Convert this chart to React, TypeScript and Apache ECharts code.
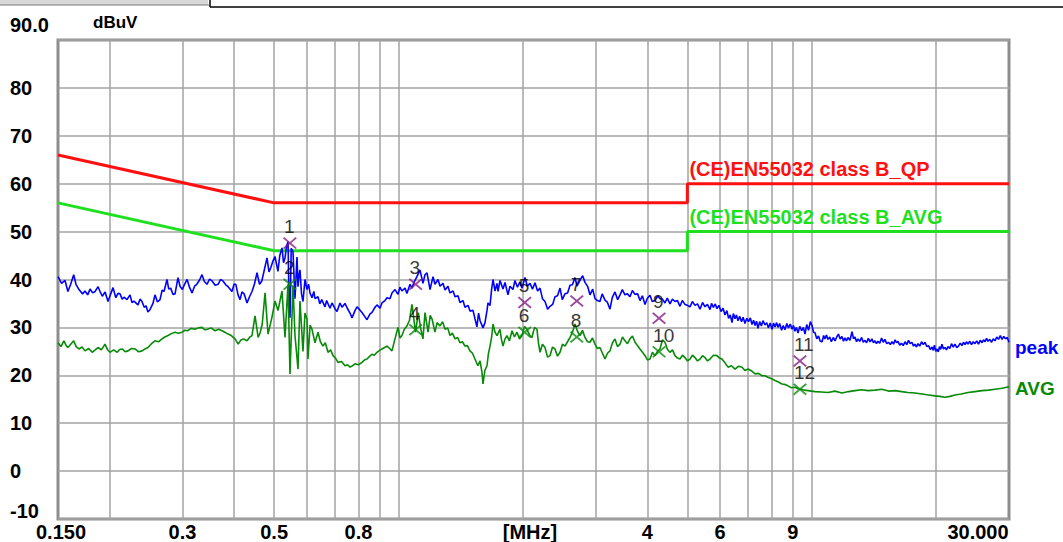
import React, { useEffect, useRef } from "react";
import * as echarts from "echarts";

const FONT = "'Liberation Sans', Arial, sans-serif";

// Frequency grid (MHz) and tick labels
const gridFreqs = [0.2, 0.3, 0.4, 0.5, 0.6, 0.7, 0.8, 0.9, 1, 2, 3, 4, 5, 6, 7, 8, 9, 10, 20];
const xTickValues = [0.15, 0.3, 0.5, 0.8, 2.08, 4, 6, 9, 30];
const xTickLabels = ["0.150", "0.3", "0.5", "0.8", "[MHz]", "4", "6", "9", "30.000"];

// Limit lines [MHz, dBuV]
const qpLimit = [[0.15, 66], [0.5, 56], [5, 56], [5, 60], [30, 60]];
const avLimit = [[0.15, 56], [0.5, 46], [5, 46], [5, 50], [30, 50]];

// Peak trace [MHz, dBuV]
const peakLow = [
  [0.150, 40.6], [0.153, 39.2], [0.156, 39.8], [0.1585, 37.5], [0.161, 39.0], [0.1637, 41.0], [0.1658, 39.0], [0.1686, 37.9],
  [0.172, 37.0], [0.1743, 37.6], [0.177, 36.8], [0.1793, 38.0], [0.182, 37.2], [0.1844, 37.5], [0.1875, 38.5], [0.190, 37.3],
  [0.192, 36.5], [0.195, 37.4], [0.1982, 35.4], [0.201, 36.9], [0.2038, 38.3], [0.207, 36.2], [0.2095, 37.1], [0.2119, 37.0],
  [0.2145, 35.9], [0.2167, 36.3], [0.2203, 35.8], [0.2240, 36.8], [0.2265, 35.2], [0.229, 35.5], [0.2342, 34.7], [0.2368, 35.9],
  [0.2395, 35.4], [0.2425, 34.2], [0.245, 34.5], [0.2475, 33.2], [0.2504, 33.7], [0.2546, 35.0], [0.2575, 36.8], [0.261, 35.3],
  [0.2648, 35.8], [0.268, 37.8], [0.2708, 37.5], [0.2753, 40.0], [0.278, 38.0], [0.281, 38.2], [0.2845, 36.9], [0.2879, 37.0],
  [0.2927, 40.4], [0.296, 38.6], [0.300, 37.9], [0.304, 39.1], [0.308, 40.0], [0.312, 38.4], [0.3165, 37.2], [0.321, 38.6],
  [0.325, 39.0], [0.330, 39.9], [0.3346, 41.0], [0.339, 39.6], [0.344, 39.0], [0.349, 40.1], [0.354, 39.7], [0.360, 38.8],
  [0.366, 39.0], [0.371, 40.0], [0.376, 39.7], [0.382, 38.9], [0.387, 38.5], [0.3954, 37.5], [0.400, 39.0], [0.404, 39.0],
  [0.409, 36.8], [0.4136, 35.8], [0.418, 37.4], [0.423, 37.0], [0.4265, 36.1], [0.4300, 35.1], [0.436, 36.4], [0.442, 37.5],
  [0.448, 39.0], [0.4546, 41.4], [0.461, 39.0], [0.467, 39.7], [0.474, 42.2], [0.4806, 44.5], [0.486, 41.6], [0.491, 42.5],
  [0.497, 43.9], [0.5025, 44.8], [0.5108, 41.7], [0.516, 45.0], [0.5225, 46.6], [0.527, 43.5], [0.5313, 44.5], [0.536, 47.0],
  [0.5403, 47.9], [0.5433, 36.0], [0.5463, 32.0], [0.550, 46.5], [0.5555, 45.8], [0.5617, 36.0], [0.5650, 40.5], [0.5680, 44.7],
  [0.5712, 38.5], [0.5745, 41.0], [0.5775, 42.0], [0.5825, 37.0], [0.5873, 35.4], [0.5939, 40.0], [0.6006, 37.9], [0.606, 39.0],
  [0.6106, 37.2], [0.6176, 36.2], [0.624, 37.5], [0.6279, 36.0], [0.6386, 36.4], [0.645, 34.9], [0.6520, 35.8], [0.6639, 34.3],
  [0.670, 35.6], [0.6826, 34.0], [0.6904, 35.1], [0.7020, 33.9], [0.7099, 33.3], [0.7218, 35.1], [0.730, 34.2], [0.7422, 35.0],
  [0.7506, 34.1], [0.7632, 33.0], [0.7717, 32.0], [0.7847, 33.5], [0.7935, 34.3], [0.8069, 33.6], [0.8159, 33.1], [0.8297, 32.2],
  [0.8389, 31.6], [0.8531, 32.8], [0.862, 33.1], [0.8772, 34.2], [0.8869, 34.7], [0.9020, 34.0], [0.9120, 35.1], [0.9274, 35.6],
  [0.9378, 36.2], [0.9536, 36.0], [0.9642, 37.2], [0.9806, 37.9], [0.997, 36.9],
];
const peakMid = [
  [1.008, 38.4], [1.019, 37.6], [1.037, 38.2], [1.048, 37.1], [1.066, 39.0], [1.078, 38.2], [1.090, 39.4], [1.108, 40.6],
  [1.127, 42.0], [1.146, 39.2], [1.159, 41.0], [1.172, 41.4], [1.192, 37.9], [1.212, 40.6], [1.225, 39.0], [1.246, 40.0],
  [1.260, 38.6], [1.281, 39.2], [1.296, 37.8], [1.317, 38.6], [1.332, 37.2], [1.355, 37.6], [1.370, 36.4], [1.393, 36.6],
  [1.408, 35.2], [1.432, 35.6], [1.448, 34.2], [1.473, 34.6], [1.489, 33.4], [1.514, 33.6], [1.531, 31.8], [1.548, 30.1],
  [1.562, 33.0], [1.575, 31.4], [1.601, 29.9], [1.619, 31.0], [1.637, 33.5], [1.646, 35.1], [1.665, 34.6], [1.680, 38.0],
  [1.693, 40.0], [1.712, 37.6], [1.731, 39.2], [1.741, 37.5], [1.760, 39.8], [1.790, 38.0], [1.810, 39.4], [1.840, 36.8],
  [1.861, 38.6], [1.892, 37.9], [1.913, 39.8], [1.940, 38.4], [1.967, 39.5], [1.990, 38.2], [2.023, 40.4], [2.050, 38.6],
  [2.080, 39.2], [2.110, 38.0], [2.139, 39.3], [2.170, 37.6], [2.200, 38.2], [2.230, 36.0], [2.262, 35.4], [2.295, 33.8],
  [2.326, 34.4], [2.360, 34.8], [2.391, 36.4], [2.425, 36.6], [2.459, 38.2], [2.490, 35.8], [2.528, 37.0], [2.565, 37.2],
  [2.600, 38.8], [2.635, 38.9], [2.673, 40.4], [2.703, 38.6], [2.748, 39.8], [2.790, 40.8], [2.826, 39.4], [2.870, 38.5],
  [2.906, 36.8], [2.950, 38.0], [2.988, 36.0], [3.030, 35.6], [3.072, 35.4], [3.110, 37.0], [3.159, 35.7], [3.200, 35.3],
  [3.248, 33.8], [3.290, 36.2], [3.340, 37.4], [3.390, 35.8], [3.435, 36.8], [3.480, 37.9], [3.531, 36.8], [3.580, 37.0],
  [3.631, 36.4], [3.680, 37.7], [3.734, 36.9], [3.790, 37.0], [3.839, 35.6], [3.890, 36.6], [3.948, 34.8], [4.000, 36.1],
  [4.059, 36.7], [4.110, 35.4], [4.174, 35.6], [4.240, 36.6], [4.292, 36.0], [4.350, 35.9], [4.413, 35.1], [4.470, 36.1],
  [4.538, 34.9], [4.600, 35.9], [4.666, 35.4], [4.730, 35.6], [4.798, 34.4], [4.860, 35.6], [4.933, 34.8],
];
const peakHigh = [
  [5.000, 34.6], [5.073, 34.3], [5.140, 35.4], [5.216, 34.6], [5.290, 34.9], [5.364, 33.8], [5.440, 35.2], [5.515, 34.3],
  [5.590, 34.8], [5.671, 33.7], [5.720, 35.0], [5.780, 34.2], [5.840, 34.9], [5.896, 33.9], [5.960, 34.6], [6.030, 33.3],
  [6.100, 34.0], [6.165, 32.6], [6.230, 33.5], [6.290, 31.9], [6.350, 32.6], [6.410, 31.0], [6.460, 32.9], [6.520, 31.8],
  [6.570, 32.6], [6.628, 31.4], [6.690, 32.3], [6.760, 31.2], [6.820, 32.1], [6.891, 30.8], [6.960, 31.9], [7.030, 31.2],
  [7.100, 32.0], [7.166, 30.6], [7.230, 31.5], [7.290, 30.4], [7.350, 31.3], [7.409, 29.8], [7.480, 31.2], [7.550, 30.3],
  [7.620, 31.4], [7.703, 30.5], [7.780, 31.0], [7.850, 29.9], [7.930, 30.9], [8.011, 29.6], [8.080, 30.9], [8.150, 30.1],
  [8.220, 31.0], [8.283, 30.0], [8.360, 30.8], [8.450, 29.4], [8.530, 30.4], [8.612, 29.5], [8.700, 30.8], [8.780, 29.9],
  [8.870, 30.7], [8.956, 29.6], [9.030, 30.4], [9.100, 29.2], [9.180, 30.0], [9.260, 28.8], [9.350, 30.2], [9.450, 29.3],
  [9.540, 30.0], [9.627, 28.6], [9.720, 30.6], [9.820, 29.4], [9.920, 31.2], [10.01, 30.4], [10.10, 29.0], [10.18, 28.9],
  [10.28, 27.6], [10.38, 28.2], [10.48, 27.1], [10.59, 27.0], [10.68, 28.3], [10.76, 27.6], [10.85, 28.4], [10.94, 27.5],
  [11.05, 28.0], [11.15, 27.0], [11.27, 27.9], [11.38, 27.2], [11.49, 28.0], [11.60, 28.6], [11.71, 27.6], [11.83, 28.1],
  [11.93, 27.1], [12.03, 27.8], [12.13, 27.2], [12.23, 27.9], [12.37, 27.3], [12.51, 29.1], [12.62, 27.6], [12.72, 28.0],
  [12.83, 27.0], [12.93, 27.6], [13.06, 27.1], [13.20, 27.9], [13.32, 26.9], [13.45, 27.3], [13.57, 26.8], [13.70, 27.7],
  [13.84, 27.0], [13.98, 27.6], [14.10, 26.8], [14.22, 27.2], [14.34, 26.6], [14.46, 27.1], [14.60, 26.7], [14.75, 27.8],
  [14.89, 26.9], [15.03, 27.5], [15.18, 26.6], [15.33, 26.9], [15.48, 26.4], [15.63, 27.0], [15.77, 26.5], [15.90, 27.4],
  [16.03, 26.8], [16.16, 27.1], [16.32, 26.3], [16.48, 26.7], [16.64, 26.2], [16.81, 27.0], [16.97, 26.4], [17.14, 27.3],
  [17.30, 26.6], [17.47, 26.9], [17.62, 26.1], [17.77, 26.5], [17.92, 25.9], [18.07, 26.6], [18.25, 26.1], [18.43, 27.0],
  [18.61, 26.4], [18.79, 26.9], [18.97, 26.0], [19.16, 26.2], [19.35, 25.4], [19.54, 25.9], [19.67, 25.2], [19.80, 26.3],
  [19.95, 25.0], [20.09, 25.5], [20.23, 24.9], [20.37, 26.0], [20.51, 25.4], [20.65, 26.5], [20.82, 25.5], [21.00, 25.8],
  [21.18, 25.3], [21.36, 26.0], [21.57, 25.6], [21.78, 26.6], [21.99, 25.9], [22.20, 26.5], [22.42, 25.8], [22.64, 26.1],
  [22.86, 26.7], [23.09, 26.2], [23.28, 26.9], [23.48, 26.4], [23.67, 27.0], [23.87, 26.5], [24.11, 27.1], [24.35, 26.4],
  [24.58, 27.0], [24.82, 26.6], [25.06, 27.2], [25.31, 26.5], [25.56, 27.3], [25.81, 26.8], [26.03, 27.4], [26.25, 27.0],
  [26.47, 27.7], [26.69, 27.1], [26.95, 27.5], [27.22, 26.9], [27.48, 27.6], [27.75, 27.2], [28.02, 28.0], [28.30, 27.5],
  [28.58, 28.3], [28.86, 27.5], [29.14, 28.1], [29.43, 27.6], [29.71, 27.9], [30.00, 26.9],
];

// Average trace [MHz, dBuV]
const avgLow = [
  [0.150, 26.8], [0.1525, 26.0], [0.155, 27.2], [0.157, 26.2], [0.1585, 25.8], [0.161, 26.5], [0.1637, 27.2], [0.166, 26.0],
  [0.1686, 25.5], [0.1715, 25.9], [0.1743, 25.1], [0.178, 25.6], [0.1815, 24.8], [0.1845, 25.3], [0.1875, 25.8], [0.191, 25.3],
  [0.1949, 26.5], [0.1975, 25.4], [0.2004, 24.8], [0.2045, 25.3], [0.2086, 24.8], [0.2115, 25.4], [0.2148, 25.5], [0.218, 24.9],
  [0.2215, 25.1], [0.226, 25.6], [0.2304, 25.5], [0.235, 24.9], [0.2396, 25.1], [0.2435, 25.5], [0.2477, 25.8], [0.2525, 26.6],
  [0.2575, 27.2], [0.2625, 27.0], [0.2677, 27.6], [0.272, 28.0], [0.2768, 28.3], [0.282, 28.7], [0.2879, 29.0], [0.2935, 28.8],
  [0.2994, 29.0], [0.304, 29.4], [0.3086, 29.3], [0.315, 29.8], [0.3218, 29.6], [0.328, 29.9], [0.3346, 30.0], [0.340, 29.5],
  [0.345, 29.6], [0.352, 29.9], [0.3598, 29.3], [0.367, 29.6], [0.3741, 29.3], [0.380, 29.0], [0.3867, 28.6], [0.394, 28.3],
  [0.4022, 27.6], [0.4093, 26.5], [0.415, 27.3], [0.4214, 27.6], [0.4300, 27.2], [0.436, 27.9], [0.442, 28.3], [0.4496, 32.4],
  [0.4575, 27.9], [0.463, 29.0], [0.468, 30.7], [0.4754, 37.2], [0.4834, 28.6], [0.494, 32.1], [0.5025, 35.5], [0.511, 33.5],
  [0.5225, 37.6], [0.5313, 27.9], [0.5403, 39.0], [0.5463, 20.3], [0.5555, 38.7], [0.5617, 28.3], [0.5680, 23.7], [0.5712, 21.3],
  [0.5775, 35.5], [0.5873, 25.0], [0.5939, 33.0], [0.6006, 31.7], [0.6039, 23.4], [0.6110, 30.5], [0.6176, 29.6], [0.6279, 26.8],
  [0.6386, 29.0], [0.6470, 27.0], [0.6566, 26.1], [0.6650, 26.8], [0.6751, 24.8], [0.6850, 25.3], [0.6943, 24.1], [0.7040, 23.6],
  [0.7138, 22.7], [0.7280, 22.9], [0.7422, 22.0], [0.7530, 22.2], [0.7632, 21.7], [0.7740, 22.0], [0.7847, 22.4], [0.8000, 22.2],
  [0.8159, 22.7], [0.8270, 23.2], [0.8389, 23.4], [0.8500, 23.9], [0.8620, 24.4], [0.8740, 24.2], [0.8869, 24.8], [0.9000, 25.2],
  [0.9120, 25.5], [0.9250, 25.8], [0.9378, 26.1], [0.9520, 25.6], [0.9642, 25.1], [0.9806, 27.6], [0.9970, 30.0],
];
const avgMid = [
  [1.0080, 27.8], [1.0190, 28.3], [1.0330, 29.6], [1.0480, 30.3], [1.0630, 31.5], [1.0780, 34.8], [1.0990, 29.0], [1.1170, 33.1],
  [1.1300, 30.0], [1.1460, 27.6], [1.1590, 33.1], [1.1790, 29.0], [1.1930, 32.5], [1.2060, 31.7], [1.2250, 29.0], [1.2400, 31.0],
  [1.2600, 30.3], [1.2780, 31.2], [1.2960, 29.6], [1.3150, 29.9], [1.3320, 28.3], [1.3500, 28.8], [1.3700, 27.6], [1.3900, 27.9],
  [1.4080, 26.8], [1.4280, 27.0], [1.4480, 26.1], [1.4680, 26.2], [1.4890, 25.1], [1.5100, 24.6], [1.5310, 23.4], [1.5560, 22.0],
  [1.5750, 23.0], [1.5920, 20.6], [1.6010, 18.2], [1.6180, 21.0], [1.6370, 22.0], [1.6500, 24.5], [1.6650, 26.1], [1.6800, 28.0],
  [1.6930, 30.7], [1.7120, 29.0], [1.7310, 28.3], [1.760, 29.6], [1.775, 27.4], [1.790, 26.1], [1.810, 27.6], [1.830, 28.3],
  [1.855, 27.2], [1.882, 29.3], [1.908, 28.0], [1.935, 29.0], [1.962, 27.6], [1.990, 28.3], [2.018, 30.2], [2.046, 29.6],
  [2.075, 28.4], [2.103, 27.9], [2.133, 30.0], [2.163, 29.6], [2.180, 26.8], [2.200, 24.8], [2.230, 26.5], [2.262, 25.8],
  [2.294, 23.8], [2.326, 24.1], [2.358, 25.9], [2.391, 25.5], [2.425, 24.0], [2.459, 24.8], [2.493, 26.5], [2.528, 26.1],
  [2.564, 27.0], [2.600, 27.9], [2.636, 29.0], [2.673, 30.7], [2.710, 29.2], [2.748, 28.3], [2.787, 29.4], [2.826, 27.9],
  [2.866, 27.0], [2.906, 26.9], [2.947, 27.8], [2.988, 26.5], [3.030, 25.6], [3.072, 25.8], [3.115, 24.6], [3.159, 23.4],
  [3.203, 24.6], [3.248, 25.1], [3.294, 26.8], [3.340, 27.6], [3.387, 26.0], [3.435, 26.5], [3.483, 28.0], [3.531, 27.2],
  [3.581, 26.6], [3.631, 27.6], [3.682, 28.2], [3.734, 26.9], [3.786, 26.2], [3.839, 25.5], [3.893, 24.8], [3.948, 24.1],
  [4.003, 23.2], [4.059, 23.4], [4.116, 24.8], [4.174, 24.1], [4.233, 25.0], [4.292, 25.5], [4.352, 27.4], [4.413, 26.9],
  [4.475, 25.4], [4.538, 24.8], [4.602, 25.3], [4.666, 24.1], [4.732, 23.6], [4.798, 23.4], [4.865, 24.2], [4.933, 23.7],
];
const avgHigh = [
  [5.003, 23.0], [5.073, 23.4], [5.144, 24.2], [5.216, 23.7], [5.290, 23.0], [5.364, 23.4], [5.440, 24.1], [5.515, 23.7],
  [5.593, 23.0], [5.671, 23.4], [5.780, 24.2], [5.896, 24.1], [5.980, 23.6], [6.060, 23.4], [6.165, 22.6], [6.270, 21.7],
  [6.390, 22.0], [6.520, 21.3], [6.650, 21.9], [6.780, 21.7], [6.890, 21.0], [7.010, 21.3], [7.150, 20.9], [7.290, 20.3],
  [7.430, 20.4], [7.580, 19.9], [7.700, 19.9], [7.830, 19.6], [7.990, 19.3], [8.150, 18.9], [8.300, 18.6], [8.470, 18.2],
  [8.610, 18.1], [8.760, 17.8], [8.930, 17.4], [9.100, 17.5], [9.260, 17.2], [9.420, 17.1], [9.600, 16.9], [9.790, 16.8],
  [10.18, 16.6], [10.55, 16.5], [10.94, 16.4], [11.38, 16.7], [11.83, 16.3], [12.27, 16.6], [12.72, 16.8], [13.20, 17.0],
  [13.68, 16.8], [14.22, 16.9], [14.78, 17.1], [15.33, 16.7], [15.90, 16.8], [16.50, 16.6], [17.09, 16.4], [17.77, 16.3],
  [18.47, 16.1], [19.16, 15.9], [19.86, 15.7], [20.40, 15.6], [21.00, 15.4], [21.60, 15.6], [22.20, 15.9], [23.00, 16.1],
  [23.87, 16.4], [24.82, 16.6], [25.81, 16.8], [26.76, 16.9], [27.75, 17.1], [28.86, 17.3], [30.00, 17.6],
];

// Final measurement markers
const markFreq = [0.546, 1.10, 2.02, 2.70, 4.27, 9.36];
const qpMarkLevel = [47.6, 39.0, 35.2, 35.5, 31.9, 23.0];
const qpMarkLabels = ["1", "3", "5", "7", "9", "11"];
const avMarkLevel = [39.0, 29.5, 29.0, 28.0, 24.9, 17.1];
const avMarkLabels = ["2", "4", "6", "8", "10", "12"];

const X_SYMBOL = "path://M0,1L1,0L5,4L9,0L10,1L6,5L10,9L9,10L5,6L1,10L0,9L4,5Z";

function zip(a: number[], b: number[]) {
  return a.map((v, i) => [v, b[i]]);
}

function xLabel(v: number) {
  const i = xTickValues.findIndex((t) => Math.abs(t - v) < t * 1e-3);
  if (i < 0) return "";
  if (i === xTickValues.length - 1) return "{r|" + xTickLabels[i] + "}";
  if (i === 0) return "{l|" + xTickLabels[i] + "}";
  return xTickLabels[i];
}

export default function App() {
  const ref = useRef<HTMLDivElement>(null);
  useEffect(() => {
    if (!ref.current) return;
    const chart = echarts.init(ref.current, undefined, { renderer: "svg" });
    const tickFont = { fontSize: 20, fontWeight: "bold", fontFamily: FONT, color: "#000" };
    const markerLabel = (labels: string[]) => ({
      show: true,
      position: "top",
      distance: 1,
      align: "left",
      offset: [-6, 0],
      formatter: (p: any) => labels[p.dataIndex],
      color: "#000",
      fontSize: 19,
      fontFamily: FONT,
    });
    chart.setOption({
      animation: false,
      backgroundColor: "#ffffff",
      grid: {
        left: 58,
        top: 40,
        right: 54,
        bottom: 22,
        show: true,
        borderColor: "#8e8e8e",
        borderWidth: 3,
        backgroundColor: "transparent",
      },
      xAxis: {
        type: "log",
        logBase: 10,
        min: 0.15,
        max: 30,
        axisLine: { show: false },
        axisTick: { show: false },
        splitLine: { show: false },
        axisLabel: {
          customValues: xTickValues,
          formatter: (v: number) => xLabel(v),
          margin: 3,
          showMinLabel: true,
          showMaxLabel: true,
          hideOverlap: false,
          ...tickFont,
          rich: {
            r: { ...tickFont, padding: [0, 62, 0, 0] },
            l: { ...tickFont, padding: [0, 0, 0, 6] },
          },
        },
      },
      yAxis: {
        type: "value",
        min: -10,
        max: 90,
        interval: 10,
        name: "dBuV",
        nameLocation: "end",
        nameGap: 9,
        nameTextStyle: {
          align: "left",
          verticalAlign: "bottom",
          padding: [0, 0, 0, 35],
          fontSize: 17,
          fontWeight: "bold",
          fontFamily: FONT,
          color: "#000",
        },
        axisLine: { show: false },
        axisTick: { show: false },
        splitLine: { show: true, lineStyle: { color: "#a3a3a3", width: 1.5 } },
        axisLabel: {
          margin: 48,
          align: "left",
          ...tickFont,
          formatter: (v: number) => (v === 90 ? "{top|90.0}" : v === -10 ? "{bot|-10}" : String(v)),
          rich: {
            top: { ...tickFont, padding: [0, 0, 30, 0] },
            bot: { ...tickFont, padding: [0, 0, 16, 0] },
          },
        },
      },
      series: [
        {
          type: "line",
          name: "grid",
          data: [],
          silent: true,
          markLine: {
            silent: true,
            z: 1,
            symbol: ["none", "none"],
            label: { show: false },
            lineStyle: { color: "#a3a3a3", width: 1.5, type: "solid" },
            data: gridFreqs.map((f) => ({ xAxis: f })),
          },
        },
        {
          type: "line",
          name: "QP limit",
          data: qpLimit,
          symbol: "none",
          silent: true,
          z: 3,
          lineStyle: { color: "#ff1010", width: 3 },
          markPoint: {
            silent: true,
            symbol: "circle",
            symbolSize: 0,
            data: [{ coord: [5, 60] }],
            label: {
              show: true,
              position: "right",
              distance: 2,
              offset: [0, -15],
              formatter: "(CE)EN55032 class B_QP",
              color: "#ff1010",
              fontSize: 20,
              fontWeight: "bold",
              fontFamily: FONT,
            },
          },
        },
        {
          type: "line",
          name: "AVG limit",
          data: avLimit,
          symbol: "none",
          silent: true,
          z: 3,
          lineStyle: { color: "#1ee01e", width: 3 },
          markPoint: {
            silent: true,
            symbol: "circle",
            symbolSize: 0,
            data: [{ coord: [5, 50] }],
            label: {
              show: true,
              position: "right",
              distance: 2,
              offset: [0, -15],
              formatter: "(CE)EN55032 class B_AVG",
              color: "#1ee01e",
              fontSize: 20,
              fontWeight: "bold",
              fontFamily: FONT,
            },
          },
        },
        {
          type: "line",
          name: "peak",
          data: [...peakLow, ...peakMid, ...peakHigh],
          symbol: "none",
          silent: true,
          z: 4,
          lineStyle: { color: "#0000ff", width: 1.6 },
          endLabel: {
            show: true,
            formatter: "peak",
            distance: 6,
            offset: [0, 5],
            color: "#0000ff",
            fontSize: 19,
            fontWeight: "bold",
            fontFamily: FONT,
          },
        },
        {
          type: "line",
          name: "AVG",
          data: [...avgLow, ...avgMid, ...avgHigh],
          symbol: "none",
          silent: true,
          z: 4,
          lineStyle: { color: "#078a07", width: 1.6 },
          endLabel: {
            show: true,
            formatter: "AVG",
            distance: 6,
            offset: [0, 2],
            color: "#078a07",
            fontSize: 19,
            fontWeight: "bold",
            fontFamily: FONT,
          },
        },
        {
          type: "scatter",
          name: "QP final",
          data: zip(markFreq, qpMarkLevel),
          symbol: X_SYMBOL,
          symbolSize: [14, 12],
          silent: true,
          z: 6,
          itemStyle: { color: "#861c86" },
          label: markerLabel(qpMarkLabels),
        },
        {
          type: "scatter",
          name: "AVG final",
          data: zip(markFreq, avMarkLevel),
          symbol: X_SYMBOL,
          symbolSize: [14, 12],
          silent: true,
          z: 6,
          itemStyle: { color: "#0a8a0a" },
          label: markerLabel(avMarkLabels),
        },
      ],
      graphic: [
        { type: "rect", shape: { x: 0, y: 0, width: 208, height: 5 }, style: { fill: "#d8d8d8" }, silent: true },
        { type: "line", shape: { x1: 0, y1: 5, x2: 209, y2: 5 }, style: { stroke: "#7a7a7a", lineWidth: 1 }, silent: true },
        { type: "line", shape: { x1: 210, y1: 0, x2: 210, y2: 7 }, style: { stroke: "#000", lineWidth: 1.5 }, silent: true },
        { type: "line", shape: { x1: 210, y1: 7, x2: 1063, y2: 7 }, style: { stroke: "#000", lineWidth: 1.5 }, silent: true },
      ],
    });
    return () => chart.dispose();
  }, []);
  return (
    <div
      ref={ref}
      style={{ position: "fixed", left: 0, top: 0, width: 1063, height: 542, background: "#fff" }}
    />
  );
}
